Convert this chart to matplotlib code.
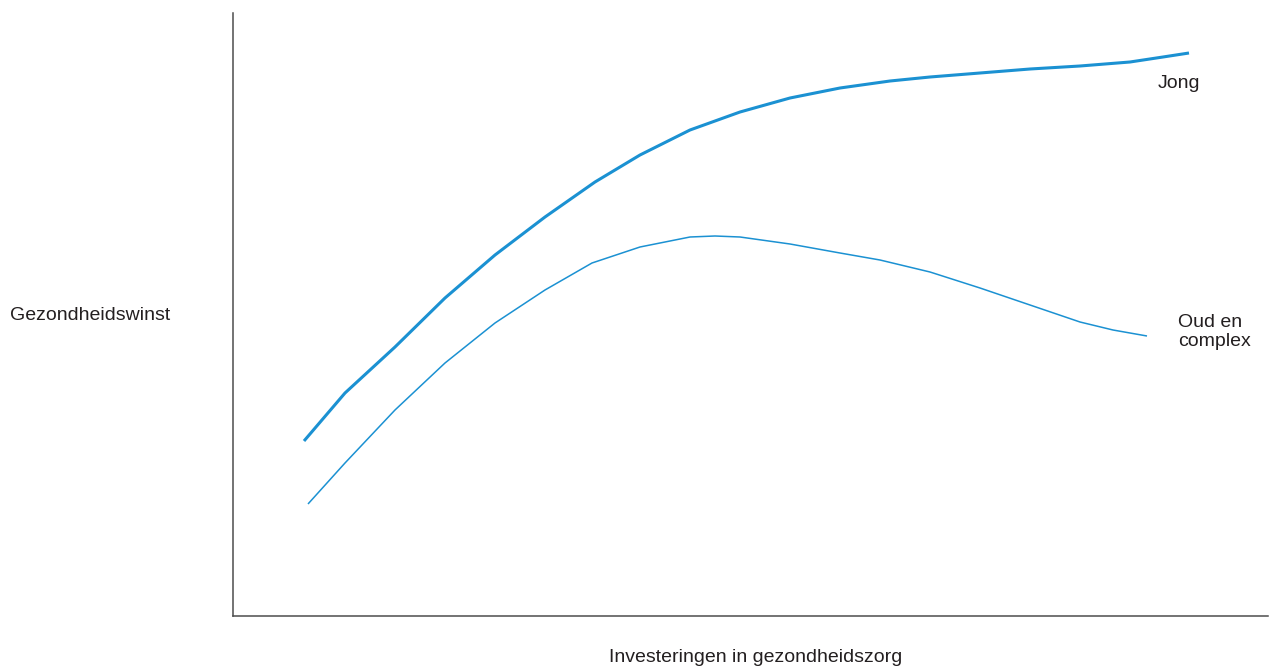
import matplotlib
matplotlib.use("Agg")
import matplotlib.pyplot as plt

# curves (arbitrary units: investment vs. health gain)
jong_x = [71, 112, 162, 212, 262, 312, 362, 407, 457, 507, 557, 607, 657, 697, 747, 797, 847, 897, 930, 956]
jong_y = [175, 223, 269, 318, 361, 399, 434, 461, 486, 504, 518, 528, 535, 539, 543, 547, 550, 554, 559, 563]

oud_x = [75, 112, 162, 212, 262, 312, 359, 407, 457, 482, 507, 557, 607, 647, 697, 747, 797, 847, 880, 914]
oud_y = [112, 153, 206, 253, 293, 326, 353, 369, 379, 380, 379, 372, 363, 356, 344, 328, 311, 294, 286, 280]

X_LABEL = 'Investeringen in gezondheidszorg'
Y_LABEL = 'Gezondheidswinst'

BLUE = '#1b91d2'
AXIS = '#4d4d4d'
TEXT = '#231f20'


def plot_curves():
    plt.rcParams['font.family'] = ['Liberation Sans', 'DejaVu Sans']

    fig = plt.figure(figsize=(12.69, 6.67), dpi=100)
    ax = fig.add_axes([233 / 1269, 51 / 667, 1035 / 1269, 603 / 667])

    ax.plot(jong_x, jong_y, color=BLUE, linewidth=2.2,
            solid_capstyle='butt', solid_joinstyle='round')
    ax.plot(oud_x, oud_y, color=BLUE, linewidth=1.1,
            solid_capstyle='butt', solid_joinstyle='round')

    ax.set_xlim(0, 1035)
    ax.set_ylim(0, 603)

    for side in ['top', 'right']:
        ax.spines[side].set_visible(False)
    for side in ['left', 'bottom']:
        ax.spines[side].set_color(AXIS)
        ax.spines[side].set_linewidth(1.1)
    ax.set_xticks([])
    ax.set_yticks([])

    ax.text(925, 532, 'Jong', fontsize=14, color=TEXT, va='center', ha='left')
    ax.text(945, 284, 'Oud en\ncomplex', fontsize=14, color=TEXT,
            va='center', ha='left', linespacing=1.1)

    fig.text(10 / 1269, 1 - 315 / 667, Y_LABEL, fontsize=14, color=TEXT,
             va='center', ha='left')
    fig.text(756 / 1269, 1 - 658 / 667, X_LABEL, fontsize=14, color=TEXT,
             va='center', ha='center')

    fig.savefig('out.png', dpi=100)
    plt.close(fig)


if __name__ == '__main__':
    plot_curves()
